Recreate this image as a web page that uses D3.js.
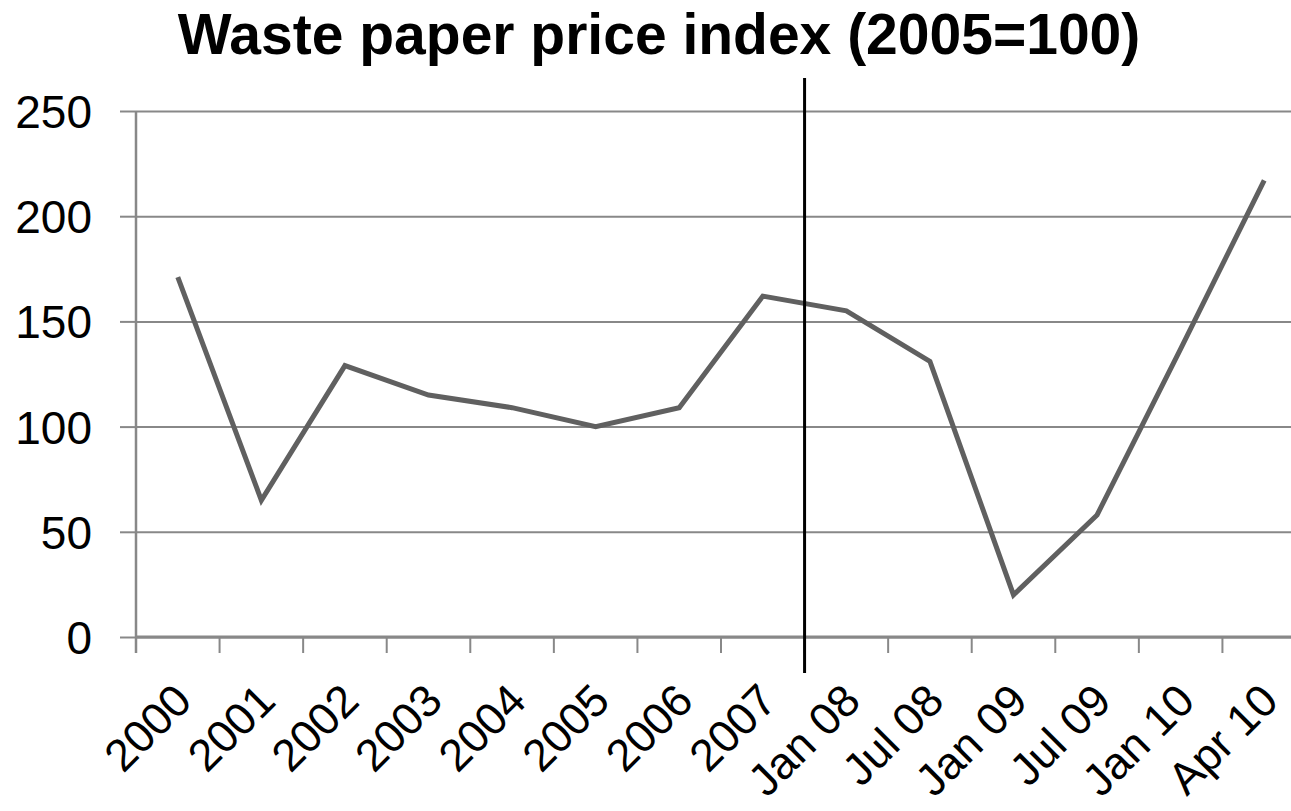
<!DOCTYPE html>
<html>
<head>
<meta charset="utf-8">
<script src="https://cdn.jsdelivr.net/npm/d3@7"></script>
<style>
  body { margin: 0; background: #fff; }
  svg { display: block; font-family: "Liberation Sans", Arial, sans-serif; }
</style>
</head>
<body>
<div id="chart"></div>
<script>
const categories = ["2000", "2001", "2002", "2003", "2004", "2005", "2006", "2007",
  "Jan 08", "Jul 08", "Jan 09", "Jul 09", "Jan 10", "Apr 10"];
const priceIndex = [171, 65, 129, 115, 109, 100, 109, 162, 155, 131, 20, 58, 137, 217];
const yTicks = [0, 50, 100, 150, 200, 250];
const splitAt = "Jan 08";
const title = "Waste paper price index (2005=100)";

const width = 1291, height = 811;
const margin = {top: 111, right: -15, bottom: 174, left: 136};

const svg = d3.select("#chart").append("svg")
  .attr("width", width)
  .attr("height", height);

const x = d3.scaleBand()
  .domain(categories)
  .range([margin.left, width - margin.right])
  .padding(0);

const y = d3.scaleLinear()
  .domain([0, 250])
  .range([height - margin.bottom, margin.top]);

// gridlines
svg.append("g")
  .attr("transform", `translate(${margin.left},0)`)
  .call(d3.axisLeft(y).tickValues(yTicks).tickSize(-(width - margin.left)).tickFormat(""))
  .call(g => g.select(".domain").remove())
  .call(g => g.selectAll("line").attr("stroke", "#888").attr("stroke-width", 2));

// y axis
const yAxis = svg.append("g")
  .attr("transform", `translate(${margin.left},0)`)
  .call(d3.axisLeft(y).tickValues(yTicks).tickSize(16).tickPadding(28).tickSizeOuter(0));
yAxis.select(".domain").attr("stroke", "#888").attr("stroke-width", 2.5)
  .attr("d", `M0,${y(250)}V${y(0) + 16}`);
yAxis.selectAll(".tick line").attr("stroke", "#888").attr("stroke-width", 2);
yAxis.selectAll(".tick text")
  .attr("fill", "#000")
  .style("font-size", "46px")
  .attr("dy", "0.36em");

// x axis baseline + boundary ticks
const xg = svg.append("g");
xg.append("line")
  .attr("x1", margin.left).attr("x2", width)
  .attr("y1", y(0)).attr("y2", y(0))
  .attr("stroke", "#888").attr("stroke-width", 3);
xg.selectAll(".bt")
  .data(categories)
  .join("line")
  .attr("class", "bt")
  .attr("x1", d => x(d)).attr("x2", d => x(d))
  .attr("y1", y(0)).attr("y2", y(0) + 16)
  .attr("stroke", "#888").attr("stroke-width", 2);

xg.selectAll(".lbl")
  .data(categories)
  .join("text")
  .attr("class", "lbl")
  .attr("text-anchor", "end")
  .attr("transform", d => `translate(${x(d) + x.bandwidth() / 2 - 6},${y(0) + 44}) rotate(-45)`)
  .style("font-size", "45px")
  .attr("fill", "#000")
  .attr("dy", "0.7em")
  .text(d => d);

// data line
const line = d3.line()
  .x((d, i) => x(categories[i]) + x.bandwidth() / 2)
  .y(d => y(d));

svg.append("path")
  .datum(priceIndex)
  .attr("fill", "none")
  .attr("stroke", "#606060")
  .attr("stroke-width", 5)
  .attr("stroke-linejoin", "miter")
  .attr("d", line);

// split marker
svg.append("line")
  .attr("x1", x(splitAt)).attr("x2", x(splitAt))
  .attr("y1", y(250) - 33).attr("y2", y(0) + 36)
  .attr("stroke", "#000").attr("stroke-width", 3);

// title
svg.append("text")
  .attr("x", 659)
  .attr("y", 54)
  .attr("text-anchor", "middle")
  .style("font-size", "57px")
  .style("font-weight", "bold")
  .attr("fill", "#000")
  .text(title);
</script>
</body>
</html>
